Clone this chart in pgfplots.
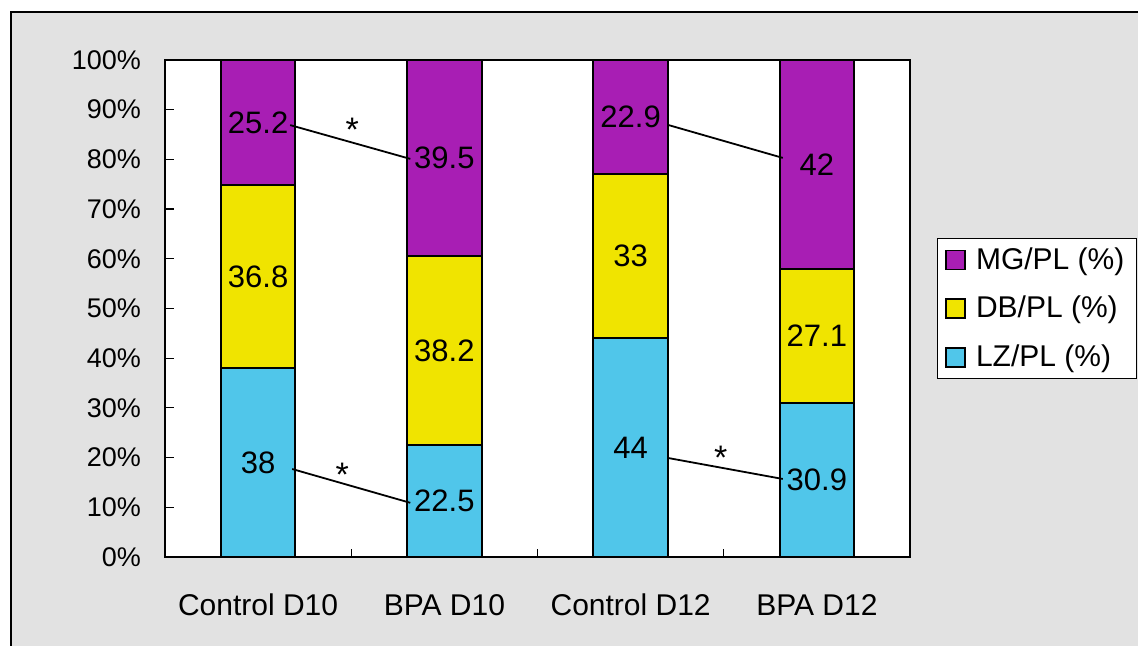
\documentclass[border=0pt]{standalone}
\usepackage{pgfplots}
\pgfplotsset{compat=1.18}
\usepackage{pgfplotstable}
\usepackage{fontspec}
\setmainfont{Liberation Sans}
\definecolor{mgc}{RGB}{168,30,180}
\definecolor{dbc}{RGB}{240,228,0}
\definecolor{lzc}{RGB}{80,198,234}
\definecolor{bgc}{RGB}{226,226,226}
\pgfplotstableread{
x lz db mg
0 38 36.8 25.2
1 22.455 38.124 39.421
2 44.044 33.033 22.923
3 30.9 27.1 42
}\data
\pgfplotstableread{
x y label
0 19 38
0 56.4 36.8
0 87.4 25.2
1 11.23 22.5
1 41.52 38.2
1 80.29 39.5
2 22.02 44
2 60.56 33
2 88.54 22.9
3 15.45 30.9
3 44.45 27.1
3 79 42
}\labels
\begin{document}
\begin{tikzpicture}
\path[use as bounding box] (-82.5pt,-44.5pt) rectangle (486.5pt,278.5pt);
\fill[bgc] (-77pt,-44.5pt) rectangle (486.5pt,272.5pt);
\draw[black, line width=0.8pt] (-77pt,-44.5pt) -- (-77pt,272.5pt) -- (486.5pt,272.5pt);
\begin{axis}[
  at={(0,0)}, anchor=south west,
  scale only axis, width=372.5pt, height=248.5pt,
  ybar stacked, bar width=0.4,
  xmin=-0.5, xmax=3.5, ymin=0, ymax=100,
  axis background/.style={fill=white},
  axis line style={black, line width=0.9pt},
  xtick={0,1,2,3},
  xticklabels={Control D10, BPA D10, Control D12, BPA D12},
  major x tick style={draw=none},
  minor xtick={0.5,1.5,2.5},
  minor tick length=4pt,
  minor x tick style={black, line width=0.6pt},
  ytick={0,10,...,100},
  yticklabel={\pgfmathprintnumber{\tick}\%},
  ytick style={black, line width=0.6pt},
  major tick length=4.5pt,
  tick align=inside,
  xtick pos=bottom, ytick pos=left,
  /pgf/number format/assume math mode=true,
  yticklabel style={font=\fontsize{13.5}{15}\selectfont, xshift=-8.5pt},
  xticklabel style={font=\fontsize{15}{17}\selectfont, yshift=-15pt},
  legend style={at={(1.036,0.642)}, anchor=north west, draw=black, line width=0.6pt,
    fill=white, font=\fontsize{15}{16}\selectfont, row sep=8pt,
    inner xsep=4pt, inner ysep=2.5pt},
  legend cell align=left,
  reverse legend,
  legend image code/.code={\draw[#1, draw=black, line width=0.8pt] (0pt,-4.75pt) rectangle (9.5pt,4.75pt);},
]
\addplot[fill=lzc, draw=black, line width=1pt] table[x=x,y=lz]{\data};
\addplot[fill=dbc, draw=black, line width=1pt] table[x=x,y=db]{\data};
\addplot[fill=mgc, draw=black, line width=1pt] table[x=x,y=mg]{\data};
\legend{\hspace{3pt}LZ/PL (\%), \hspace{3pt}DB/PL (\%), \hspace{3pt}MG/PL (\%)}
\end{axis}
\begin{axis}[
  at={(0,0)}, anchor=south west,
  scale only axis, width=372.5pt, height=248.5pt,
  xmin=-0.5, xmax=3.5, ymin=0, ymax=100,
  hide axis, clip=false,
]
\addplot[black, line width=0.9pt, no marks] coordinates {(0.172,86.9) (0.817,80.1)};
\addplot[black, line width=0.9pt, no marks] coordinates {(0.183,17.7) (0.817,10.9)};
\addplot[black, line width=0.9pt, no marks] coordinates {(2.204,86.9) (2.817,80.3)};
\addplot[black, line width=0.9pt, no marks] coordinates {(2.204,19.9) (2.817,15.7)};
\addplot[draw=none, no marks, nodes near coords, point meta=explicit symbolic,
  every node near coord/.append style={anchor=center, font=\fontsize{15.5}{17}\selectfont, inner sep=1pt}]
  table[x=x,y=y,meta=label]{\labels};
\node[font=\fontsize{17}{18}\selectfont] at (axis cs:0.505,85.9) {*};
\node[font=\fontsize{17}{18}\selectfont] at (axis cs:0.452,16.5) {*};
\node[font=\fontsize{17}{18}\selectfont] at (axis cs:2.484,20.0) {*};
\end{axis}
\end{tikzpicture}
\end{document}
